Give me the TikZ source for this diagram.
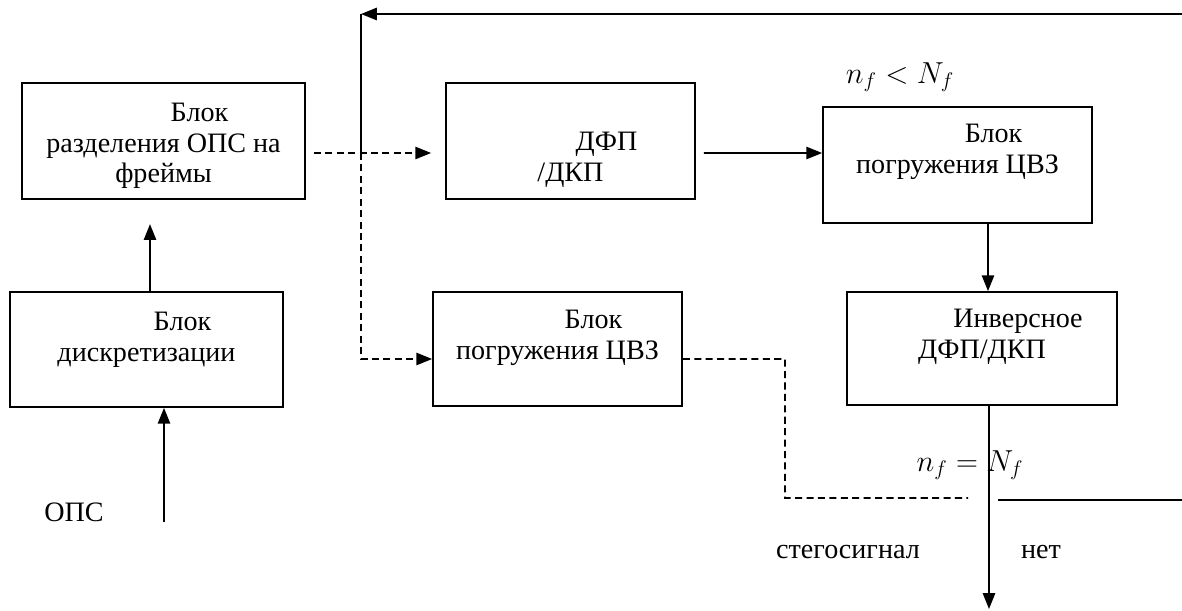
\documentclass[tikz,border=0pt]{standalone}
\usepackage{fontspec}
\setmainfont{Liberation Serif}
\usepackage{tikz}
\usetikzlibrary{arrows.meta}

\newcommand{\lineshift}{\hspace*{1.44cm}}

\begin{document}
\begin{tikzpicture}[x=0.02cm, y=-0.02cm, every node/.style={font=\fontsize{16}{17.6}\selectfont}]
        % Block and line styles
        \tikzstyle{block} = [rectangle, draw, line width=1pt, inner sep=0pt, align=center]
        \tikzstyle{line} = [line width=1pt]
        \tikzstyle{arrow} = [line width=1pt,->,>={Triangle[length=9pt,width=7pt]}]
        \tikzstyle{dashline} = [line width=1pt, dash pattern=on 4pt off 2.5pt]
        \tikzstyle{dasharrow} = [dashline,->,>={Triangle[length=9pt,width=7pt]}]
        \tikzstyle{cond} = [font=\fontsize{17}{20}\selectfont]

        \useasboundingbox (0,0) rectangle (1182,611);

        % Blocks
        \node (split) [block, minimum width=5.66cm, minimum height=2.32cm] at (163.5,141)
              {\lineshift Блок\rule{0pt}{16pt}\\разделения ОПС на\\фреймы};
        \node (disc) [block, minimum width=5.46cm, minimum height=2.3cm] at (146.5,349.5)
              {\lineshift Блок\\дискретизации\rule[-14pt]{0pt}{14pt}};
        \node (dfp) [block, minimum width=4.98cm, minimum height=2.32cm] at (570.5,141)
              {\lineshift ДФП\rule{0pt}{32pt}\\/ДКП};
        \node (embtop) [block, minimum width=5.38cm, minimum height=2.32cm] at (957.5,165)
              {\lineshift Блок\\погружения ЦВЗ\rule[-18pt]{0pt}{18pt}};
        \node (embmid) [block, minimum width=4.98cm, minimum height=2.28cm] at (557.5,349)
              {\lineshift Блок\\погружения ЦВЗ\rule[-16pt]{0pt}{16pt}};
        \node (inv) [block, minimum width=5.4cm, minimum height=2.26cm] at (982,348.5)
              {\lineshift Инверсное\\ДФП/ДКП\rule[-17pt]{0pt}{17pt}};

        % Labels
        \node (ops) at (74,512) {ОПС};
        \node (steg) at (848,552) {стегосигнал};
        \node (no) at (1041,552) {нет};
        \node (less) [cond] at (900,77) {$n_f < N_f$};
        \node (equal) [cond] at (970,465) {$n_f = N_f$};

        % Points of the connectors
        \coordinate (opsin) at (164,522);
        \coordinate (fork) at (361,153);
        \coordinate (loopend) at (361,14);
        \coordinate (nostart) at (998,500);
        \coordinate (loopright) at (1200,500);
        \coordinate (stegbend) at (785,359);
        \coordinate (stegend) at (968,498);
        \coordinate (out) at (989,609);

        % Arrows
        \draw [arrow] (opsin) -- (disc.south -| opsin);
        \draw [arrow] ([xshift=0.07cm]disc.north) -- ++(0,-67);
        \draw [dasharrow] ([xshift=0.16cm,yshift=-0.24cm]split.east) -- ([xshift=-0.28cm,yshift=-0.24cm]dfp.west);
        \draw [arrow] ([xshift=0.16cm,yshift=-0.24cm]dfp.east) -- ([yshift=0.24cm]embtop.west);
        \draw [arrow] ([xshift=0.61cm]embtop.south) -- ([xshift=0.12cm]inv.north);
        \draw [arrow] ([xshift=0.14cm]inv.south) -- (out);
        \draw [dashline] ([yshift=-0.2cm]embmid.east) -- (stegbend) |- (stegend);
        \draw [arrow] (nostart) -- (loopright) |- (loopend);
        \draw [line] (loopend) -- (fork);
        \draw [dasharrow] (fork) |- ([yshift=-0.2cm]embmid.west);
\end{tikzpicture}
\end{document}
